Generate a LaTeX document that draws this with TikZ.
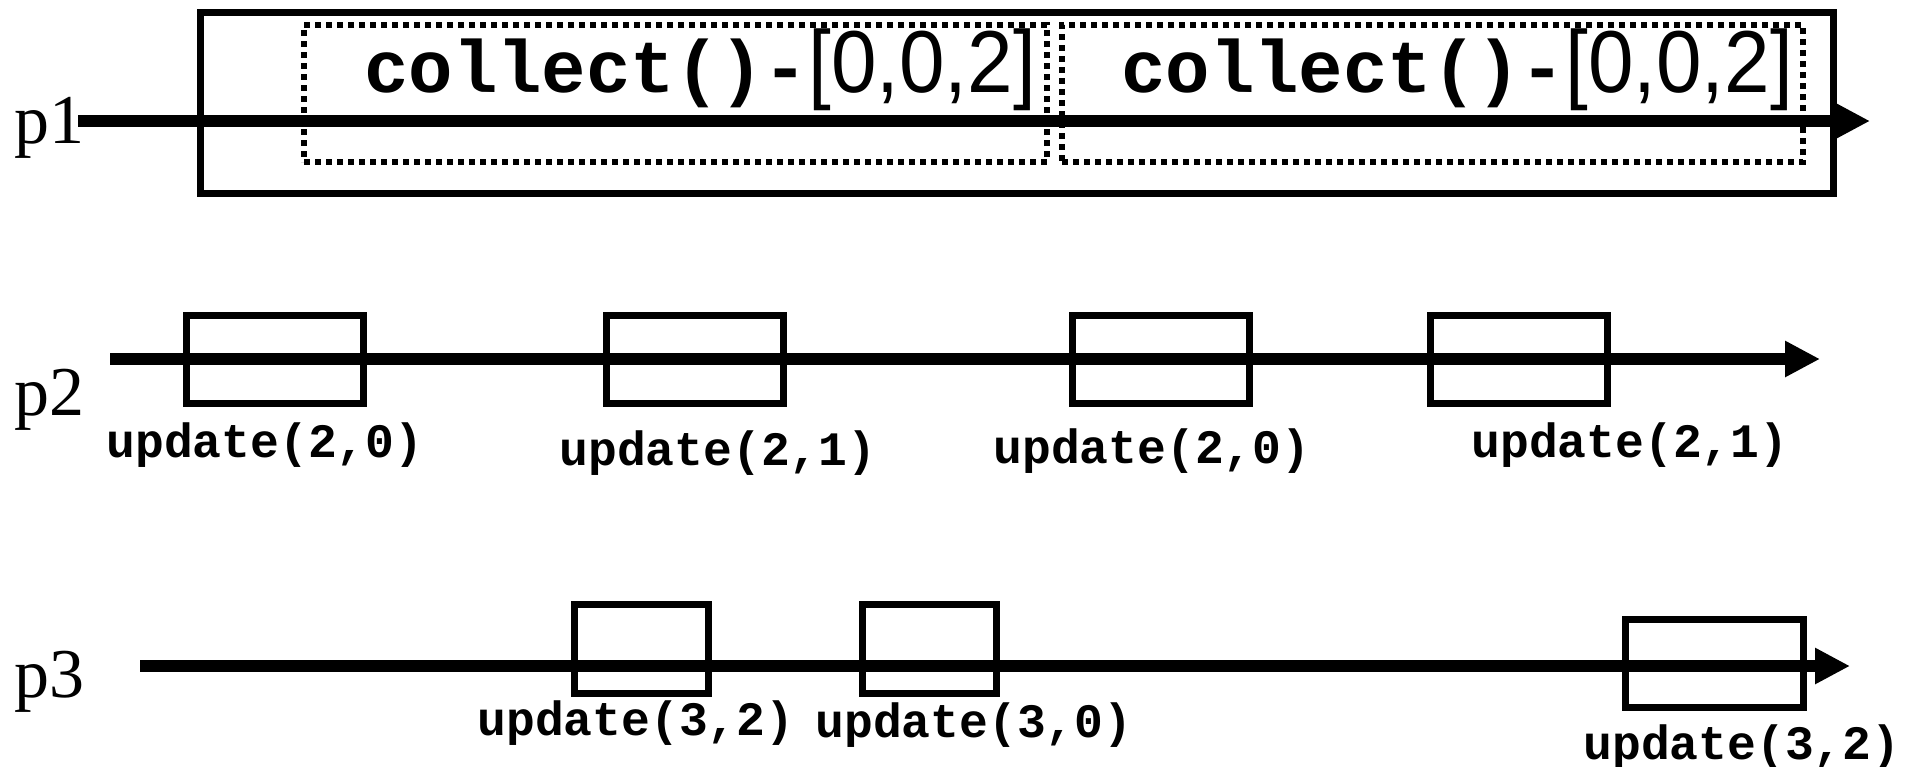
\documentclass[tikz,border=0pt]{standalone}
\usepackage{fontspec}
\setmainfont{Liberation Serif}
\newfontfamily\monofam{Liberation Mono}
\newfontfamily\sansN{Liberation Sans}[FakeStretch=0.93]
\usetikzlibrary{arrows.meta}
\begin{document}
\begin{tikzpicture}[x=1pt,y=-1pt,
  timeline/.style={line width=11.5pt, -{Triangle[length=35pt,width=34pt]}},
  opbox/.style={draw, line width=7pt, inner sep=0pt},
  frame/.style={draw, line width=7pt, inner sep=0pt},
  dotbox/.style={draw, line width=6pt, dash pattern=on 6pt off 5pt, inner sep=0pt},
  lbl/.style={font=\monofam\bfseries\fontsize{48}{50}\selectfont, inner sep=0pt, anchor=base},
  plabel/.style={font=\fontsize{70}{72}\selectfont, inner sep=0pt, anchor=base west},
  coll/.style={inner sep=0pt, anchor=base west}]
\useasboundingbox (0,0) rectangle (1911,766);

% p1
\node[frame, minimum width=1633pt, minimum height=181pt] (frm) at (1016.5,102.5) {};
\node[dotbox, minimum width=743pt, minimum height=137pt] (d1) at (675.5,93.5) {};
\node[dotbox, minimum width=741pt, minimum height=137pt] (d2) at (1432.5,93.5) {};
\node[coll] (c1) at (364,92) {{\monofam\bfseries\fontsize{74}{76}\selectfont collect()-}{\sansN\fontsize{88}{90}\selectfont[0,0,2]}};
\node[coll] (c2) at (1121,92) {{\monofam\bfseries\fontsize{74}{76}\selectfont collect()-}{\sansN\fontsize{88}{90}\selectfont[0,0,2]}};
\node[plabel] (p1) at (14,143) {p1};
\coordinate (s1) at (78,121);
\coordinate (e1) at (1870,121);
\draw[timeline] (s1) -- (e1);

% p2
\node[opbox, minimum width=177pt, minimum height=88pt] (b21) at (275,359.5) {};
\node[opbox, minimum width=177pt, minimum height=88pt] (b22) at (695,359.5) {};
\node[opbox, minimum width=177pt, minimum height=88pt] (b23) at (1161,359.5) {};
\node[opbox, minimum width=177pt, minimum height=88pt] (b24) at (1519,359.5) {};
\node[plabel] (p2) at (14,415) {p2};
\coordinate (s2) at (110,359);
\coordinate (e2) at (1820,359);
\draw[timeline] (s2) -- (e2);
\node[lbl] (l21) at (265,457) {update(2,0)};
\node[lbl] (l22) at (718,465) {update(2,1)};
\node[lbl] (l23) at (1152,463) {update(2,0)};
\node[lbl] (l24) at (1630,457) {update(2,1)};

% p3
\node[opbox, minimum width=134pt, minimum height=89pt] (b31) at (641,649) {};
\node[opbox, minimum width=134pt, minimum height=89pt] (b32) at (929,649) {};
\node[opbox, minimum width=178pt, minimum height=88pt] (b33) at (1714,663.5) {};
\node[plabel] (p3) at (14,697) {p3};
\coordinate (s3) at (140,666);
\coordinate (e3) at (1850,666);
\draw[timeline] (s3) -- (e3);
\node[lbl] (l31) at (636,735) {update(3,2)};
\node[lbl] (l32) at (974,737) {update(3,0)};
\node[lbl] (l33) at (1742,759) {update(3,2)};
\end{tikzpicture}
\end{document}
